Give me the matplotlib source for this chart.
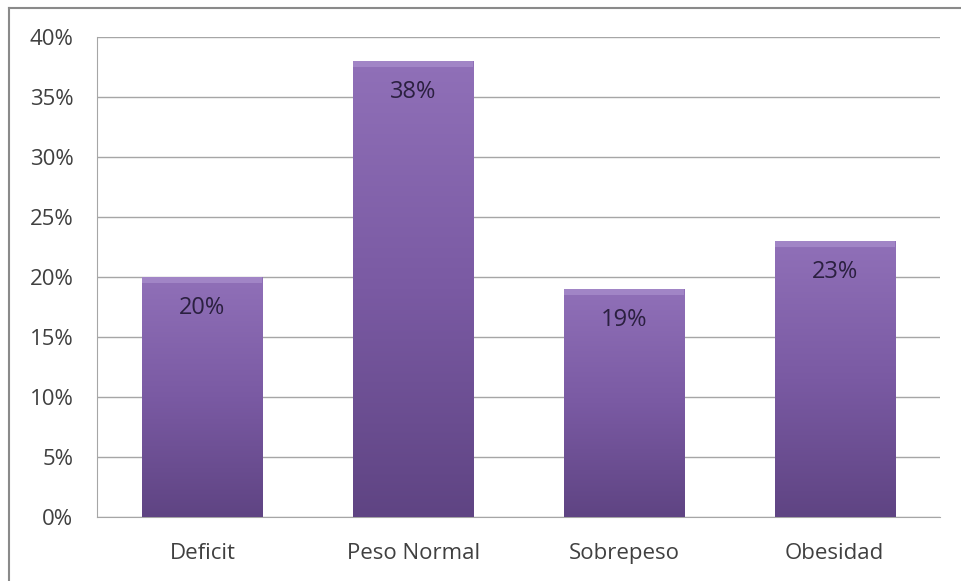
import numpy as np
import matplotlib.pyplot as plt
from matplotlib.colors import LinearSegmentedColormap
from matplotlib.lines import Line2D

categories = ['Deficit', 'Peso Normal', 'Sobrepeso', 'Obesidad']
values = [20, 38, 19, 23]
y_ticks = [0, 5, 10, 15, 20, 25, 30, 35, 40]

plt.rcParams['font.family'] = ['Open Sans', 'DejaVu Sans']

fig = plt.figure(figsize=(9.61, 5.81), dpi=100)
ax = fig.add_axes([97 / 961, 1 - 517 / 581, 843 / 961, 480 / 581])

x = np.arange(len(categories))
bars = ax.bar(x, values, width=0.57, color='#7b5ca3', zorder=3)

# vertical gradient inside each bar
cmap = LinearSegmentedColormap.from_list('purp', ['#5f4483', '#7a5aa3', '#9070b8'])
grad = np.linspace(0, 1, 256).reshape(-1, 1)
for b in bars:
    x0, y0 = b.get_x(), b.get_y()
    w, h = b.get_width(), b.get_height()
    im = ax.imshow(grad, cmap=cmap, origin='lower', aspect='auto',
                   extent=[x0, x0 + w, y0, y0 + h], zorder=4)
    im.set_clip_path(b)
    # light bevel at the top
    ax.fill_between([x0, x0 + w], y0 + h - 0.5, y0 + h, color='#a185c6', zorder=5, lw=0)

for xi, v in zip(x, values):
    ax.annotate(f'{v}%', (xi, v), xytext=(0, -22.5), textcoords='offset points',
                ha='center', va='center', fontsize=17, color='#2b2040', zorder=6)

ax.set_xlim(-0.5, len(categories) - 0.5)
ax.set_ylim(0, 40)
ax.set_yticks(y_ticks)
ax.set_yticklabels([f'{t}%' for t in y_ticks])
ax.set_xticks(x)
ax.set_xticklabels(categories)
ax.tick_params(axis='y', length=0, pad=17, labelsize=16, labelcolor='#404040')
ax.tick_params(axis='x', length=0, pad=18.5, labelsize=16, labelcolor='#404040')
ax.grid(axis='y', color='#a6a6a6', lw=1, zorder=0)
for s in ['top', 'right']:
    ax.spines[s].set_visible(False)
for s in ['left', 'bottom']:
    ax.spines[s].set_color('#a6a6a6')

# outer chart border
fig.add_artist(Line2D([9 / 961, 9 / 961], [0, 1 - 8 / 581], color='#8a8a8a', lw=1.5))
fig.add_artist(Line2D([9 / 961, 1], [1 - 8 / 581, 1 - 8 / 581], color='#8a8a8a', lw=1.5))

fig.savefig('out.png', dpi=100)
